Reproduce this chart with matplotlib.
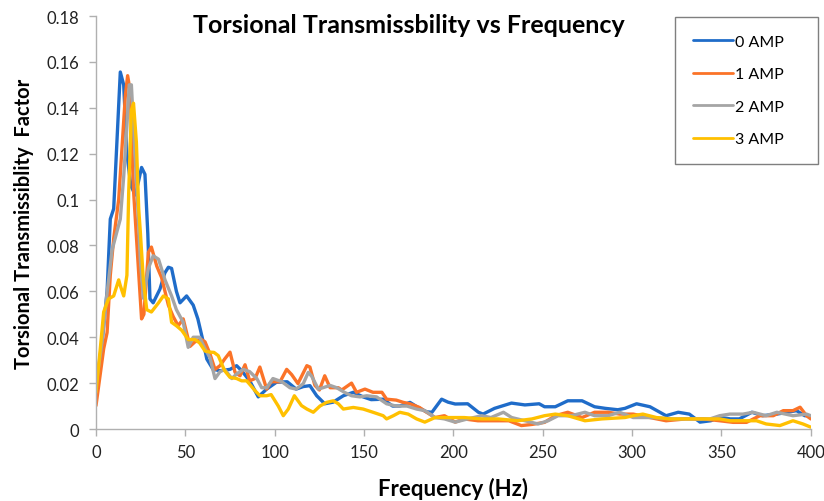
import matplotlib
matplotlib.use('Agg')
import matplotlib.pyplot as plt
from matplotlib.ticker import FuncFormatter

# Torsional transmissibility readings per current level (frequency in Hz)
freq_0amp = [0, 3.4, 6.2, 8, 9.9, 11.7, 13.6, 15.5, 17.3, 19.5, 22, 23.7, 25.5, 27.4, 29, 30.2, 32,
             35.8, 38.5, 40.5, 42.3, 45, 47, 50.7, 54.4, 57, 60, 62, 65.5, 69.4, 75, 78.7, 81.5, 86,
             90.8, 95.5, 101, 107, 112, 116, 119.7, 123.5, 128, 132.7, 138.4, 144, 149.5, 154, 160.7,
             166, 170, 175.7, 180, 185, 188, 193.4, 197, 201, 208, 214, 216.6, 223, 232.5, 240, 248,
             251, 257, 264, 272, 279, 285, 292, 296, 302.5, 310, 319, 325.8, 332, 338, 344, 349, 355,
             360, 367, 373, 381, 392, 396.6, 400]
tt_0amp = [0.016, 0.038, 0.060, 0.0915, 0.096, 0.125, 0.1556, 0.150, 0.120, 0.106, 0.102, 0.1076,
           0.114, 0.111, 0.085, 0.0567, 0.055, 0.061, 0.068, 0.0705, 0.070, 0.060, 0.055, 0.058,
           0.054, 0.048, 0.038, 0.0305, 0.026, 0.0254, 0.026, 0.0276, 0.0254, 0.021, 0.014, 0.0174,
           0.0204, 0.0206, 0.0174, 0.0185, 0.0189, 0.0145, 0.011, 0.0117, 0.0145, 0.016, 0.014,
           0.0128, 0.013, 0.010, 0.010, 0.0116, 0.0095, 0.0075, 0.0073, 0.013, 0.0117, 0.0109,
           0.011, 0.0073, 0.0065, 0.009, 0.0113, 0.0105, 0.011, 0.0097, 0.0097, 0.0123, 0.0123,
           0.0097, 0.009, 0.0084, 0.009, 0.011, 0.0097, 0.0058, 0.0073, 0.0065, 0.003, 0.0036,
           0.0051, 0.0044, 0.0044, 0.0073, 0.0058, 0.0065, 0.008, 0.0058, 0.0058]

freq_1amp = [0, 4.3, 6.2, 8, 9.9, 12.7, 14.5, 16.4, 17.7, 19.2, 20, 21, 22.8, 25.5, 26.8, 29.3, 31,
             34, 36.7, 38.6, 40.5, 43.2, 46, 48.8, 50.7, 52.6, 55.4, 59, 61, 63.8, 66.6, 69.4, 72,
             75, 77.8, 80.6, 83.4, 86, 89, 91.7, 95.5, 98, 103, 106.7, 109.5, 113, 118, 119.7, 122.5,
             125, 128, 131, 135.6, 137.5, 143, 145.8, 150.5, 155, 160, 162.6, 168, 172, 175.7, 181,
             184, 189.7, 195, 201, 206, 213.7, 221, 231, 238, 244, 251, 257, 264, 272, 279, 286.6,
             293, 300.6, 310, 319, 330, 340, 349, 356.5, 364, 371.5, 379, 384.6, 390, 394, 397.6, 400]
tt_1amp = [0.0102, 0.035, 0.042, 0.067, 0.083, 0.100, 0.122, 0.145, 0.154, 0.147, 0.125, 0.104,
           0.0815, 0.048, 0.050, 0.077, 0.0793, 0.071, 0.066, 0.060, 0.054, 0.049, 0.045, 0.048,
           0.042, 0.036, 0.038, 0.039, 0.038, 0.0327, 0.026, 0.0276, 0.0305, 0.0335, 0.0247,
           0.0232, 0.028, 0.021, 0.022, 0.027, 0.0174, 0.0206, 0.0206, 0.026, 0.0237, 0.0198,
           0.0276, 0.027, 0.019, 0.017, 0.0232, 0.018, 0.018, 0.017, 0.020, 0.016, 0.0174, 0.016,
           0.016, 0.013, 0.0126, 0.0116, 0.011, 0.0094, 0.0078, 0.005, 0.0058, 0.003, 0.0044,
           0.0036, 0.0036, 0.0036, 0.0015, 0.002, 0.0029, 0.0058, 0.0073, 0.005, 0.0073, 0.0073,
           0.0065, 0.0065, 0.005, 0.0036, 0.0044, 0.0044, 0.0036, 0.0029, 0.0029, 0.0058, 0.0058,
           0.008, 0.008, 0.0095, 0.0058, 0.0044]

freq_2amp = [0, 3.4, 6, 9, 11.7, 13.6, 15.5, 17.3, 18.6, 19.8, 21, 23, 24.8, 26.5, 29.3, 32, 35,
             38.6, 42.3, 45, 48.8, 51.6, 54.4, 58, 61, 63.8, 66.6, 69.4, 72, 76, 78.7, 82.4, 86, 90,
             92.7, 95.5, 99, 104, 108.5, 112, 116, 118.8, 120.7, 124.4, 127, 131, 134.7, 139, 143,
             147.7, 151.5, 157, 162.6, 168, 174, 179.4, 184, 189.7, 195, 201, 208, 215.8, 221, 228,
             232.6, 240, 247.4, 253, 258.6, 266, 273.6, 279, 286.6, 293, 300.6, 311.7, 323, 334,
             343.6, 349, 354.7, 362, 367.7, 375, 381, 390, 397.6, 400]
tt_2amp = [0.019, 0.038, 0.058, 0.078, 0.086, 0.0915, 0.110, 0.132, 0.150, 0.150, 0.132, 0.103,
           0.074, 0.057, 0.070, 0.0755, 0.074, 0.065, 0.058, 0.052, 0.0465, 0.0356, 0.040, 0.040,
           0.035, 0.031, 0.022, 0.025, 0.026, 0.022, 0.024, 0.026, 0.025, 0.022, 0.018, 0.018,
           0.022, 0.0206, 0.018, 0.0174, 0.0198, 0.0247, 0.023, 0.0174, 0.018, 0.019, 0.018, 0.016,
           0.0145, 0.014, 0.0145, 0.014, 0.011, 0.010, 0.010, 0.0087, 0.008, 0.005, 0.0044, 0.003,
           0.0044, 0.0058, 0.005, 0.0073, 0.005, 0.0036, 0.0022, 0.0036, 0.0058, 0.0058, 0.0073,
           0.0058, 0.0058, 0.0073, 0.005, 0.005, 0.0044, 0.0044, 0.0044, 0.0058, 0.0065, 0.0065,
           0.0073, 0.0058, 0.0073, 0.0058, 0.0065, 0.0058]

freq_3amp = [0, 2.4, 4.3, 7, 9.9, 12.7, 13.6, 15.5, 17.3, 18.3, 19.8, 21, 22.6, 23.9, 24.8, 26.5,
             28.4, 31, 35, 37.7, 40.5, 42.3, 45, 48, 51.6, 55.4, 58, 61, 63.8, 66, 68.4, 70, 72, 75,
             78.7, 81.5, 84.3, 86, 89, 91.7, 95.5, 98, 102, 104.8, 107.6, 111, 115, 118, 121.6,
             125.3, 129, 132.8, 135.6, 138.4, 144, 149.5, 155, 160.7, 162.6, 166.4, 170, 174.7,
             179.4, 184, 189.7, 195, 201, 206, 215.8, 225, 236, 244, 251, 257, 264, 273.6, 283, 296,
             300.6, 306, 313.6, 321, 330, 340, 349, 354.7, 362, 369.6, 375, 382.7, 390, 395.6, 400]
tt_3amp = [0.016, 0.035, 0.051, 0.0567, 0.058, 0.065, 0.0625, 0.058, 0.067, 0.103, 0.139, 0.142,
           0.125, 0.096, 0.086, 0.065, 0.052, 0.051, 0.055, 0.058, 0.0567, 0.0465, 0.045, 0.043,
           0.039, 0.039, 0.0375, 0.034, 0.0335, 0.0334, 0.032, 0.029, 0.0254, 0.0225, 0.022, 0.021,
           0.021, 0.0195, 0.0167, 0.0145, 0.0145, 0.015, 0.010, 0.0058, 0.0087, 0.0145, 0.0102,
           0.0087, 0.0073, 0.010, 0.0116, 0.0123, 0.011, 0.0087, 0.0094, 0.0087, 0.0073, 0.0058,
           0.0044, 0.0058, 0.0073, 0.0065, 0.0044, 0.003, 0.005, 0.005, 0.005, 0.005, 0.0044,
           0.0044, 0.0036, 0.0044, 0.0058, 0.0065, 0.0058, 0.0036, 0.0044, 0.005, 0.0058, 0.0065,
           0.005, 0.0044, 0.0044, 0.0044, 0.0044, 0.0036, 0.0036, 0.0036, 0.0022, 0.0015, 0.0036,
           0.0022, 0.0008]

series = [
    (freq_0amp, tt_0amp, '0 AMP', '#1f6cc9'),
    (freq_1amp, tt_1amp, '1 AMP', '#fb7328'),
    (freq_2amp, tt_2amp, '2 AMP', '#a5a5a5'),
    (freq_3amp, tt_3amp, '3 AMP', '#ffc000'),
]

plt.rcParams['font.family'] = ['Lato', 'DejaVu Sans']

fig = plt.figure(figsize=(8.24, 5.02), dpi=100)
ax = fig.add_axes([0.1165, 0.1434, 0.8675, 0.8227])

for f, v, name, col in series:
    ax.plot(f, v, color=col, linewidth=2.4, label=name,
            solid_joinstyle='round', solid_capstyle='round')

ax.set_xlim(0, 400)
ax.set_ylim(0, 0.18)
ax.set_xticks(range(0, 401, 50))
ax.set_yticks([i * 0.02 for i in range(10)])
ax.yaxis.set_major_formatter(FuncFormatter(lambda y, _: '{:g}'.format(round(y, 2))))

# Excel-like axes: only left and bottom, light gray
for side in ['top', 'right']:
    ax.spines[side].set_visible(False)
for side in ['left', 'bottom']:
    ax.spines[side].set_color('#b0b0b0')
    ax.spines[side].set_linewidth(1.0)
ax.tick_params(axis='both', colors='#b0b0b0', length=5, width=1.0,
               labelcolor='#222222', labelsize=12)
ax.tick_params(axis='y', pad=7)
ax.tick_params(axis='x', pad=6)

ax.set_xlabel('Frequency (Hz)', fontsize=16, fontweight='bold', labelpad=12)
ax.set_ylabel('Torsional Transmissiblity  Factor', fontsize=14.5, fontweight='bold', labelpad=9)
fig.text(0.496, 0.95, 'Torsional Transmissbility vs Frequency', ha='center', va='center',
         fontsize=18, fontweight='bold')

leg = ax.legend(loc='upper left', bbox_to_anchor=(675 / 824, 1 - 23 / 502, 143 / 824, 0.01),
                bbox_transform=fig.transFigure, mode='expand', fontsize=11.5,
                frameon=True, fancybox=False, framealpha=1, edgecolor='#7f7f7f',
                handlelength=2.5, handletextpad=0.15, labelspacing=1.15, borderpad=1.1,
                borderaxespad=0)
leg.get_frame().set_linewidth(1.0)
for line in leg.get_lines():
    line.set_linewidth(2.0)

plt.savefig('out.png', dpi=100)
